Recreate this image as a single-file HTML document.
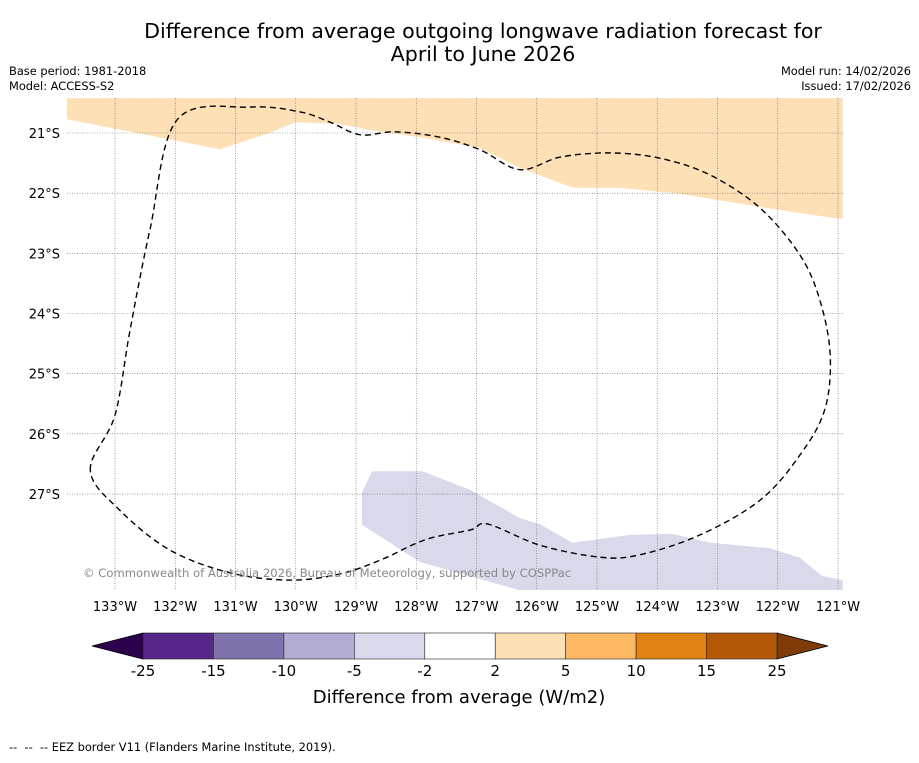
<!DOCTYPE html>
<html><head><meta charset="utf-8"><style>
body{margin:0;background:#fff;font-family:"Liberation Sans","DejaVu Sans",sans-serif}
svg text{font-family:"DejaVu Sans","Liberation Sans",sans-serif}
</style></head><body>
<svg id="c" width="919" height="758" viewBox="0 0 919 758" xmlns="http://www.w3.org/2000/svg">
<text x="483" y="38" font-size="20.6" text-anchor="middle">Difference from average outgoing longwave radiation forecast for</text>
<text x="483" y="61" font-size="20.6" text-anchor="middle">April to June 2026</text>
<text x="9" y="75" font-size="11.4">Base period: 1981-2018</text>
<text x="9" y="90" font-size="11.4">Model: ACCESS-S2</text>
<text x="911" y="75" font-size="11.4" text-anchor="end">Model run: 14/02/2026</text>
<text x="911" y="90" font-size="11.4" text-anchor="end">Issued: 17/02/2026</text>
<g id="map"></g>
<g id="cbar"></g>
<text x="459" y="703" font-size="18" text-anchor="middle">Difference from average (W/m2)</text>
<text x="9" y="751" font-size="11.4" xml:space="preserve">--  --  -- EEZ border V11 (Flanders Marine Institute, 2019).</text>
</svg>
<script>
const lonTicks=[-133,-132,-131,-130,-129,-128,-127,-126,-125,-124,-123,-122,-121];
const latTicks=[21,22,23,24,25,26,27];
const orangeLon=[-133.8,-131.26,-130.43,-130.01,-129.27,-128.77,-127.94,-126.94,-126.28,-125.40,-124.62,-123.62,-122.29,-121.30,-120.92,-120.92,-133.8];
const orangeLat=[20.77,21.27,21.0,20.82,20.85,20.95,21.07,21.25,21.58,21.91,21.91,22.01,22.23,22.38,22.43,20.42,20.42];
const purpleLon=[-128.90,-128.73,-127.90,-127.11,-126.28,-125.95,-125.41,-124.45,-123.76,-123.12,-122.13,-121.63,-121.27,-120.92,-120.92,-126.28,-127.94,-128.90];
const purpleLat=[26.97,26.62,26.62,26.93,27.40,27.50,27.81,27.68,27.66,27.81,27.90,28.06,28.36,28.43,28.60,28.60,28.13,27.51];
const eezLon=[-133.41,-133.0,-132.75,-132.42,-131.97,-130.76,-129.93,-129.43,-128.93,-128.35,-127.61,-126.94,-126.28,-125.61,-124.78,-123.95,-123.12,-122.29,-121.63,-121.30,-121.13,-121.22,-121.63,-122.29,-123.29,-124.29,-124.95,-125.95,-126.81,-127.11,-127.85,-128.60,-129.27,-130.10,-131.09,-132.09,-132.92,-133.41];
const eezLat=[26.60,25.69,24.27,22.61,20.78,20.57,20.65,20.82,21.03,20.98,21.07,21.28,21.61,21.40,21.33,21.42,21.70,22.25,23.03,23.78,24.69,25.60,26.35,27.10,27.68,28.01,28.05,27.85,27.50,27.60,27.76,28.10,28.33,28.43,28.31,27.93,27.27,26.60];
const cbLevels=[-25,-15,-10,-5,-2,2,5,10,15,25];
const cbColors=['#542788','#8073ac','#b2abd2','#d8daeb','#ffffff','#fee0b6','#fdb863','#e08214','#b35806'];
const cbUnder='#2d004b', cbOver='#7f3b08';

const NS='http://www.w3.org/2000/svg';
const X0=67,X1=843,Y0=98,Y1=590;
const xs=lon=>115+(lon+133)*60.25;
const ys=lat=>133+(lat-21)*60.17;
function mk(tag,attrs,parent){const e=document.createElementNS(NS,tag);for(const k in attrs)e.setAttribute(k,attrs[k]);parent.appendChild(e);return e;}
const map=document.getElementById('map');
const defs=mk('defs',{},map);
const cp=mk('clipPath',{id:'clip'},defs);
mk('rect',{x:X0,y:Y0,width:X1-X0,height:Y1-Y0},cp);
const inner=mk('g',{'clip-path':'url(#clip)'},map);
function poly(lons,lats,attrs,name){
  const pts=lons.map((l,i)=>xs(l).toFixed(1)+','+ys(lats[i]).toFixed(1)).join(' ');
  const p=mk('polygon',Object.assign({points:pts},attrs),inner);
  
  
  return p;
}
poly(orangeLon,orangeLat,{fill:'#fee0b6'},'positive-anomaly-region');
poly(purpleLon,purpleLat,{fill:'#d8daeb'},'negative-anomaly-region');
lonTicks.forEach(l=>{
  const x=xs(l);
  const g=mk('line',{x1:x,x2:x,y1:Y0,y2:Y1,stroke:'#666','stroke-width':0.6,'stroke-dasharray':'1,1.5'},inner);
  
  
  const t=mk('text',{x:x,y:611,'font-size':13,'text-anchor':'middle'},map);
  t.textContent=Math.abs(l)+'°W';
  
  
});
latTicks.forEach(l=>{
  const y=ys(l);
  const g=mk('line',{x1:X0,x2:X1,y1:y,y2:y,stroke:'#666','stroke-width':0.6,'stroke-dasharray':'1,1.5'},inner);
  
  
  const t=mk('text',{x:60,y:y+5,'font-size':13,'text-anchor':'end'},map);
  t.textContent=l+'°S';
  
  
});
// smooth closed curve (Catmull-Rom)
const P=eezLon.slice(0,-1).map((l,i)=>[xs(l),ys(eezLat[i])]);
const n=P.length;
let d='M'+P[0][0].toFixed(1)+','+P[0][1].toFixed(1);
for(let i=0;i<n;i++){
  const p0=P[(i-1+n)%n],p1=P[i],p2=P[(i+1)%n],p3=P[(i+2)%n];
  const c1=[p1[0]+(p2[0]-p0[0])/6,p1[1]+(p2[1]-p0[1])/6];
  const c2=[p2[0]-(p3[0]-p1[0])/6,p2[1]-(p3[1]-p1[1])/6];
  d+=' C'+c1.map(v=>v.toFixed(1)).join(',')+' '+c2.map(v=>v.toFixed(1)).join(',')+' '+p2.map(v=>v.toFixed(1)).join(',');
}
const eez=mk('path',{d:d,fill:'none',stroke:'#000','stroke-width':1.4,'stroke-dasharray':'6,4'},inner);


const cr=mk('text',{x:83,y:577,'font-size':11.6,fill:'#888'},inner);
cr.textContent='© Commonwealth of Australia 2026, Bureau of Meteorology, supported by COSPPac';



const cb=document.getElementById('cbar');
const CX0=143,CX1=777,CY0=633,CY1=659,CM=646;
const bw=(CX1-CX0)/cbColors.length;
const tl=mk('polygon',{points:`${CX0},${CY0} ${CX0},${CY1} 92,${CM}`,fill:cbUnder,stroke:'#000','stroke-width':0.8},cb);


const tr=mk('polygon',{points:`${CX1},${CY0} ${CX1},${CY1} 828,${CM}`,fill:cbOver,stroke:'#000','stroke-width':0.8},cb);


cbColors.forEach((c,i)=>{
  const r=mk('rect',{x:CX0+i*bw,y:CY0,width:bw,height:CY1-CY0,fill:c,stroke:'#222','stroke-width':0.6},cb);
  
  
});
cbLevels.forEach((v,i)=>{
  const t=mk('text',{x:CX0+i*bw,y:676,'font-size':15,'text-anchor':'middle'},cb);
  t.textContent=v;
  
  
});
</script>
</body></html>
